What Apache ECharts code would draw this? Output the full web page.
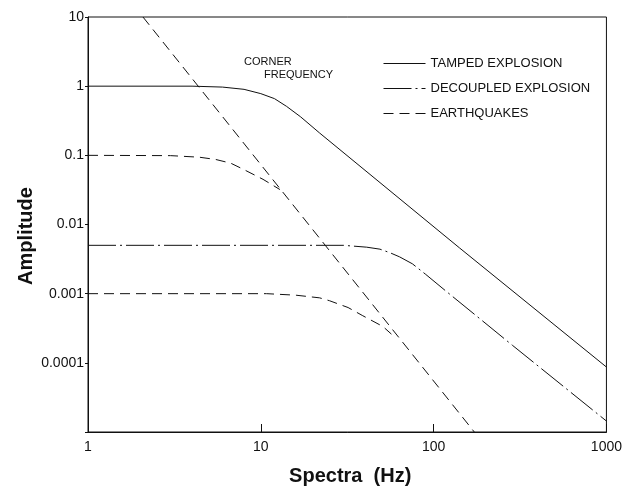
<!DOCTYPE html>
<html>
<head>
<meta charset="utf-8">
<script src="https://cdn.jsdelivr.net/npm/echarts@6/dist/echarts.min.js"></script>
<style>html,body{margin:0;padding:0;background:#fff}#c{width:625px;height:491px}</style>
</head>
<body>
<div id="c"></div>
<script>
// Data (frequency Hz, amplitude)
const tampedExplosion = [[1,1],[4,1],[6,0.97],[8,0.9],[10,0.78],[12,0.66],[14.1,0.51],[17,0.36],[21.9,0.21],[141,0.0046],[1000,0.000087]];
const decoupledExplosion = [[1,0.005],[30,0.005],[41,0.0047],[48.9,0.0044],[56,0.0039],[63.6,0.0034],[75.4,0.0027],[90,0.0019],[118.9,0.00107],[184,0.00044],[286,0.000179],[1000,0.0000144]];
const earthquakeLarge = [[1,0.1],[3,0.099],[4.4,0.094],[5.5,0.087],[6.7,0.077],[7.9,0.063],[10.3,0.045],[12.9,0.032]];
const earthquakeSmall = [[1,0.001],[10.8,0.001],[16,0.00095],[21.9,0.00087],[25,0.00079],[32,0.00063],[38.9,0.00048],[50.9,0.000335],[57,0.00026]];
const cornerFrequency = [[2.08,10],[172,0.00001]];
const xTickLabels = {0:'1',1:'10',2:'100',3:'1000'};
const yTickLabels = {1:'10',0:'1','-1':'0.1','-2':'0.01','-3':'0.001','-4':'0.0001','-5':''};
const legendNames = ['TAMPED EXPLOSION','DECOUPLED EXPLOSION','EARTHQUAKES'];

const chart = echarts.init(document.getElementById('c'));
const ink = '#111';
function line(name, data, type) {
  return {
    name, type:'line', data, symbol:'none', smooth:false,
    lineStyle:{color:ink, width:1, type:type},
    itemStyle:{color:ink}, silent:true, z:3
  };
}
chart.setOption({
  animation:false,
  backgroundColor:'#fff',
  grid:{left:88, right:18, top:17, bottom:58, show:true, borderColor:ink, borderWidth:1},
  legend:{
    data:legendNames, orient:'vertical', left:378, top:52,
    itemWidth:42, itemHeight:14, itemGap:12,
    itemStyle:{opacity:0, borderWidth:0},
    lineStyle:{width:1},
    textStyle:{fontFamily:'Liberation Sans', fontSize:13, color:ink},
    selectedMode:false
  },
  xAxis:{
    type:'log', logBase:10, min:1, max:1000,
    name:'Spectra  (Hz)', nameLocation:'middle', nameGap:34,
    nameTextStyle:{fontFamily:'Liberation Sans', fontWeight:'bold', fontSize:20, color:ink, padding:[0,0,0,6]},
    axisLine:{lineStyle:{color:ink, width:1}},
    axisTick:{inside:true, length:8, lineStyle:{color:ink}},
    minorTick:{show:false},
    splitLine:{show:false},
    axisLabel:{fontFamily:'Liberation Sans', fontSize:14, color:ink, margin:8,
      formatter:v=>xTickLabels[Math.round(Math.log10(v))]}
  },
  yAxis:{
    type:'log', logBase:10, min:0.00001, max:10,
    axisLine:{lineStyle:{color:ink, width:1}},
    axisTick:{inside:false, length:3, lineStyle:{color:ink}},
    splitLine:{show:false},
    axisLabel:{fontFamily:'Liberation Sans', fontSize:14, color:ink, margin:4,
      formatter:v=>yTickLabels[Math.round(Math.log10(v))]}
  },
  graphic:[
    {type:'text', x:26, y:236, rotation:Math.PI/2, style:{text:'Amplitude', font:'bold 20px "Liberation Sans"', fill:ink, align:'center', verticalAlign:'middle'}},
    {type:'text', left:244, top:56, style:{text:'CORNER', font:'11px "Liberation Sans"', fill:ink}},
    {type:'text', left:264, top:69, style:{text:'FREQUENCY', font:'11px "Liberation Sans"', fill:ink}}
  ],
  series:[
    line('TAMPED EXPLOSION', tampedExplosion, 'solid'),
    line('DECOUPLED EXPLOSION', decoupledExplosion, [28,4,2,4]),
    line('EARTHQUAKES', earthquakeLarge, [10,6]),
    line('EARTHQUAKES', earthquakeSmall, [10,6]),
    line('CORNER FREQUENCY', cornerFrequency, [10,6])
  ]
});
</script>
</body>
</html>
